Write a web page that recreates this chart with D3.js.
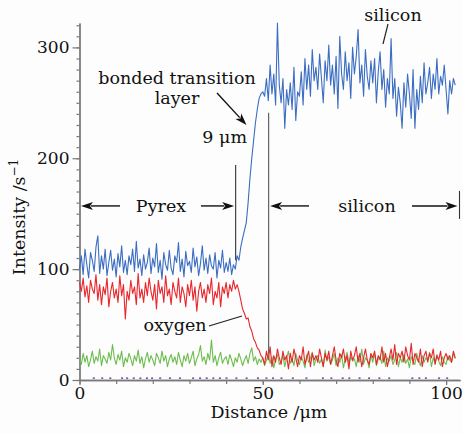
<!DOCTYPE html>
<html>
<head>
<meta charset="utf-8">
<script src="https://cdn.jsdelivr.net/npm/d3@7"></script>
<style>
  body { margin: 0; background: #fdfdfd; }
  text { font-family: "DejaVu Serif", serif; fill: #111; }
</style>
</head>
<body>
<script>
var w = 463;
var h = 434;

// depth profile, sampled every 0.5 um from 0 to 102.5 um
var step = 0.5;

var silicon = [
  100, 112, 95, 118, 104, 92, 115, 108, 98, 120,
  130, 96, 112, 100, 118, 94, 106, 117, 99, 109,
  93, 114, 102, 121, 97, 108, 95, 112, 104, 118,
  98, 125, 101, 109, 94, 113, 100, 106, 119, 96,
  110, 102, 123, 97, 108, 91, 115, 104, 99, 117,
  101, 95, 112, 106, 124, 98, 109, 93, 116, 103,
  107, 97, 119, 102, 111, 94, 105, 121, 99, 110,
  96, 113, 103, 100, 115, 92, 108, 101, 117, 97,
  106, 98, 110, 95, 104, 100, 112, 108, 120, 128,
  135, 142, 160, 182, 200, 216, 232, 244, 254, 258,
  260, 256, 272, 252, 284, 258, 276, 248, 322, 266,
  250, 272, 227, 262, 248, 268, 244, 282, 234, 260,
  256, 278, 248, 290, 262, 284, 256, 298, 270, 282,
  262, 294, 272, 250, 288, 270, 302, 266, 284, 258,
  292, 245, 310, 276, 262, 296, 270, 286, 254, 300,
  276, 292, 316, 268, 284, 256, 298, 274, 262, 288,
  268, 290, 250, 278, 296, 262, 280, 246, 272, 258,
  308, 254, 272, 238, 264, 250, 227, 268, 246, 276,
  258, 236, 280, 227, 262, 244, 274, 250, 286, 258,
  268, 282, 254, 276, 262, 290, 258, 274, 266, 284,
  262, 240, 270, 258, 272, 266
];

var oxygen = [
  88, 80, 92, 75, 85, 70, 90, 82, 78, 95,
  72, 86, 68, 84, 77, 92, 66, 80, 88, 74,
  82, 70, 94, 76, 86, 55, 80, 72, 90, 78,
  84, 68, 96, 74, 82, 70, 88, 76, 92, 80,
  72, 86, 64, 90, 78, 84, 70, 94, 76, 82,
  68, 88, 80, 74, 92, 70, 84, 78, 66, 86,
  76, 90, 72, 84, 62, 80, 88, 74, 82, 70,
  86, 78, 92, 68, 80, 74, 88, 66, 84, 78,
  88, 74, 86, 80, 90, 82, 86, 80, 72, 64,
  60, 55, 56, 48, 44, 37, 34, 29, 27, 22,
  20, 14, 26, 18, 30, 12, 22, 16, 28, 20,
  14, 26, 18, 22, 10, 24, 16, 28, 20, 12,
  22, 18, 30, 14, 20, 26, 12, 24, 18, 22,
  16, 28, 20, 12, 24, 18, 26, 14, 22, 30,
  18, 12, 24, 20, 28, 16, 22, 10, 26, 18,
  22, 30, 16, 24, 12, 20, 28, 18, 14, 24,
  20, 26, 14, 22, 18, 30, 16, 24, 12, 20,
  28, 18, 32, 14, 24, 20, 26, 16, 30, 22,
  18, 33, 14, 24, 20, 16, 28, 12, 22, 26,
  16, 24, 20, 28, 14, 22, 18, 26, 12, 20,
  24, 18, 22, 16, 26, 20
];

var third = [
  20, 14, 24, 16, 22, 12, 18, 26, 15, 21,
  17, 28, 13, 22, 19, 15, 25, 18, 32, 20,
  14, 23, 18, 26, 12, 20, 16, 24, 19, 13,
  22, 17, 27, 15, 21, 11, 19, 25, 16, 22,
  18, 13, 24, 20, 15, 26, 17, 22, 12, 19,
  23, 16, 21, 14, 25, 18, 12, 22, 17, 24,
  15, 20, 26, 13, 19, 23, 31, 17, 21, 14,
  24, 18, 36, 16, 22, 13, 20, 25, 15, 19,
  21, 14, 23, 18, 12, 20, 16, 24, 19, 13,
  18, 22, 15, 24, 29, 17, 21, 14, 19, 16,
  20, 13, 18, 24, 15, 21, 11, 19, 23, 14,
  17, 22, 12, 20, 26, 15, 19, 13, 24, 18,
  14, 21, 17, 11, 23, 16, 20, 25, 13, 19,
  22, 15, 19, 12, 27, 17, 21, 14, 18, 24,
  13, 20, 16, 23, 11, 19, 25, 15, 21, 17,
  19, 12, 22, 16, 28, 14, 20, 18, 11, 23,
  16, 24, 13, 19, 21, 15, 26, 12, 20, 17,
  22, 14, 18, 25, 12, 20, 16, 23, 15, 19,
  11, 21, 17, 14, 24, 18, 13, 22, 16, 20,
  18, 25, 12, 20, 15, 23, 17, 13, 21, 16,
  14, 22, 18, 16, 24, 19
];

// sparse single counts of the fourth trace
var sparseX = [3.9, 6.2, 8.4, 11.6, 13, 14.8, 16.6, 18.4, 19.8, 22, 24.7, 27.4,
  31, 32.9, 34.7, 36.5, 38.3, 40.1, 42.8, 45.6, 48.7, 51, 52.8, 55.1, 58.2,
  61.9, 66.4, 68.7, 71.8, 73.6, 76.4, 79, 81.8, 84.5, 90.8, 92.7, 94.5, 98.1, 100.3];

var xMajor = [0, 50, 100];
var yMajor = [0, 100, 200, 300];

var svg = d3.select("body")
            .append("svg")
              .attr("width", w)
              .attr("height", h);

var x = d3.scaleLinear().domain([0, 103.8]).range([79.5, 460]);
var y = d3.scaleLinear().domain([0, 322]).range([380, 23]);

var axisColor = "#7a7a7a";
var fs = "17.5px";

// minor ticks first, then labelled major ticks
var gx = svg.append("g").attr("transform", "translate(0," + y(0) + ")");
gx.call(d3.axisBottom(x).tickValues(d3.range(0, 101, 10)).tickSize(4).tickSizeOuter(0).tickFormat(""));
gx.append("g").call(d3.axisBottom(x).tickValues(xMajor).tickSize(5).tickSizeOuter(0).tickPadding(2));

var gy = svg.append("g").attr("transform", "translate(" + x(0) + ",0)");
gy.call(d3.axisLeft(y).tickValues(d3.range(0, 321, 10)).tickSize(3).tickSizeOuter(0).tickFormat(""));
gy.append("g").call(d3.axisLeft(y).tickValues(yMajor).tickSize(7).tickSizeOuter(0).tickPadding(3));

svg.selectAll(".domain").attr("stroke", axisColor).attr("stroke-width", 1.3);
svg.selectAll(".tick line").attr("stroke", axisColor).attr("stroke-width", 1.2);
svg.selectAll(".tick text")
  .style("font-family", "DejaVu Serif")
  .style("font-size", "17px")
  .attr("fill", "#111");

// profile traces
var line = d3.line()
  .x(function(d, i) { return x(i * step); })
  .y(function(d) { return y(d); });

var traces = [
  { values: silicon, color: "#3b6dc2" },
  { values: third, color: "#6dbd4e" },
  { values: oxygen, color: "#e8262c" }
];

svg.selectAll("path.trace")
  .data(traces)
  .enter()
  .append("path")
    .attr("class", "trace")
    .attr("d", function(d) { return line(d.values); })
    .attr("fill", "none")
    .attr("stroke", function(d) { return d.color; })
    .attr("stroke-width", 1.1)
    .attr("stroke-linejoin", "round");

svg.selectAll("rect.sparse")
  .data(sparseX)
  .enter()
  .append("rect")
    .attr("class", "sparse")
    .attr("x", function(d) { return x(d) - 1; })
    .attr("y", y(1) - 1.5)
    .attr("width", 2)
    .attr("height", 1.5)
    .attr("fill", "#7a3db0");

// region markers
var edgeA = 42.6, edgeB = 51.6, arrowY = y(157);

svg.append("line")
  .attr("x1", x(edgeA)).attr("x2", x(edgeA))
  .attr("y1", y(194)).attr("y2", y(108))
  .attr("stroke", "#333").attr("stroke-width", 1.1);
svg.append("line")
  .attr("x1", x(edgeB)).attr("x2", x(edgeB))
  .attr("y1", y(241)).attr("y2", y(24))
  .attr("stroke", "#555").attr("stroke-width", 1.1);
svg.append("line")
  .attr("x1", 459.5).attr("x2", 459.5)
  .attr("y1", arrowY - 15).attr("y2", arrowY + 13)
  .attr("stroke", "#333").attr("stroke-width", 1.1);

function arrow(x1, y1, x2, y2) {
  var a = Math.atan2(y2 - y1, x2 - x1);
  var len = 12, half = 4;
  var bx = x2 - len * Math.cos(a), by = y2 - len * Math.sin(a);
  svg.append("line")
    .attr("x1", x1).attr("y1", y1)
    .attr("x2", bx + 2 * Math.cos(a)).attr("y2", by + 2 * Math.sin(a))
    .attr("stroke", "#111").attr("stroke-width", 1.4);
  svg.append("path")
    .attr("d", "M" + x2 + "," + y2 +
      "L" + (bx - half * Math.sin(a)) + "," + (by + half * Math.cos(a)) +
      "L" + (bx + 3 * Math.cos(a)) + "," + (by + 3 * Math.sin(a)) +
      "L" + (bx + half * Math.sin(a)) + "," + (by - half * Math.cos(a)) + "Z")
    .attr("fill", "#111");
}

arrow(120, arrowY, x(0) + 1.5, arrowY);
arrow(201, arrowY, x(edgeA) - 1.5, arrowY);
arrow(309, arrowY, x(edgeB) + 1.5, arrowY);
arrow(412, arrowY, 457.5, arrowY);
arrow(217, 93, 246.5, 125);

// leader lines
svg.append("line")
  .attr("x1", 388).attr("y1", 24).attr("x2", 383).attr("y2", 44)
  .attr("stroke", "#222").attr("stroke-width", 1.2);
svg.append("line")
  .attr("x1", 209).attr("y1", 326).attr("x2", 242).attr("y2", 316)
  .attr("stroke", "#222").attr("stroke-width", 1.2);

var labels = [
  { t: "silicon", x: 393, y: 21, a: "middle" },
  { t: "bonded transition", x: 177, y: 84, a: "middle" },
  { t: "layer", x: 177, y: 104, a: "middle" },
  { t: "9 \u03bcm", x: 247, y: 143, a: "end" },
  { t: "Pyrex", x: 161, y: 212, a: "middle" },
  { t: "silicon", x: 367, y: 212, a: "middle" },
  { t: "oxygen", x: 175, y: 331, a: "middle" },
  { t: "Distance /\u03bcm", x: 269, y: 418, a: "middle" }
];

svg.selectAll("text.note")
  .data(labels)
  .enter()
  .append("text")
    .attr("class", "note")
    .attr("x", function(d) { return d.x; })
    .attr("y", function(d) { return d.y; })
    .attr("text-anchor", function(d) { return d.a; })
    .style("font-size", fs)
    .text(function(d) { return d.t; });

var yl = svg.append("text")
  .attr("transform", "translate(25,217) rotate(-90)")
  .attr("text-anchor", "middle")
  .style("font-size", fs);
yl.append("tspan").text("Intensity /s");
yl.append("tspan").attr("dy", -7).style("font-size", "12px").text("\u22121");
</script>
</body>
</html>
